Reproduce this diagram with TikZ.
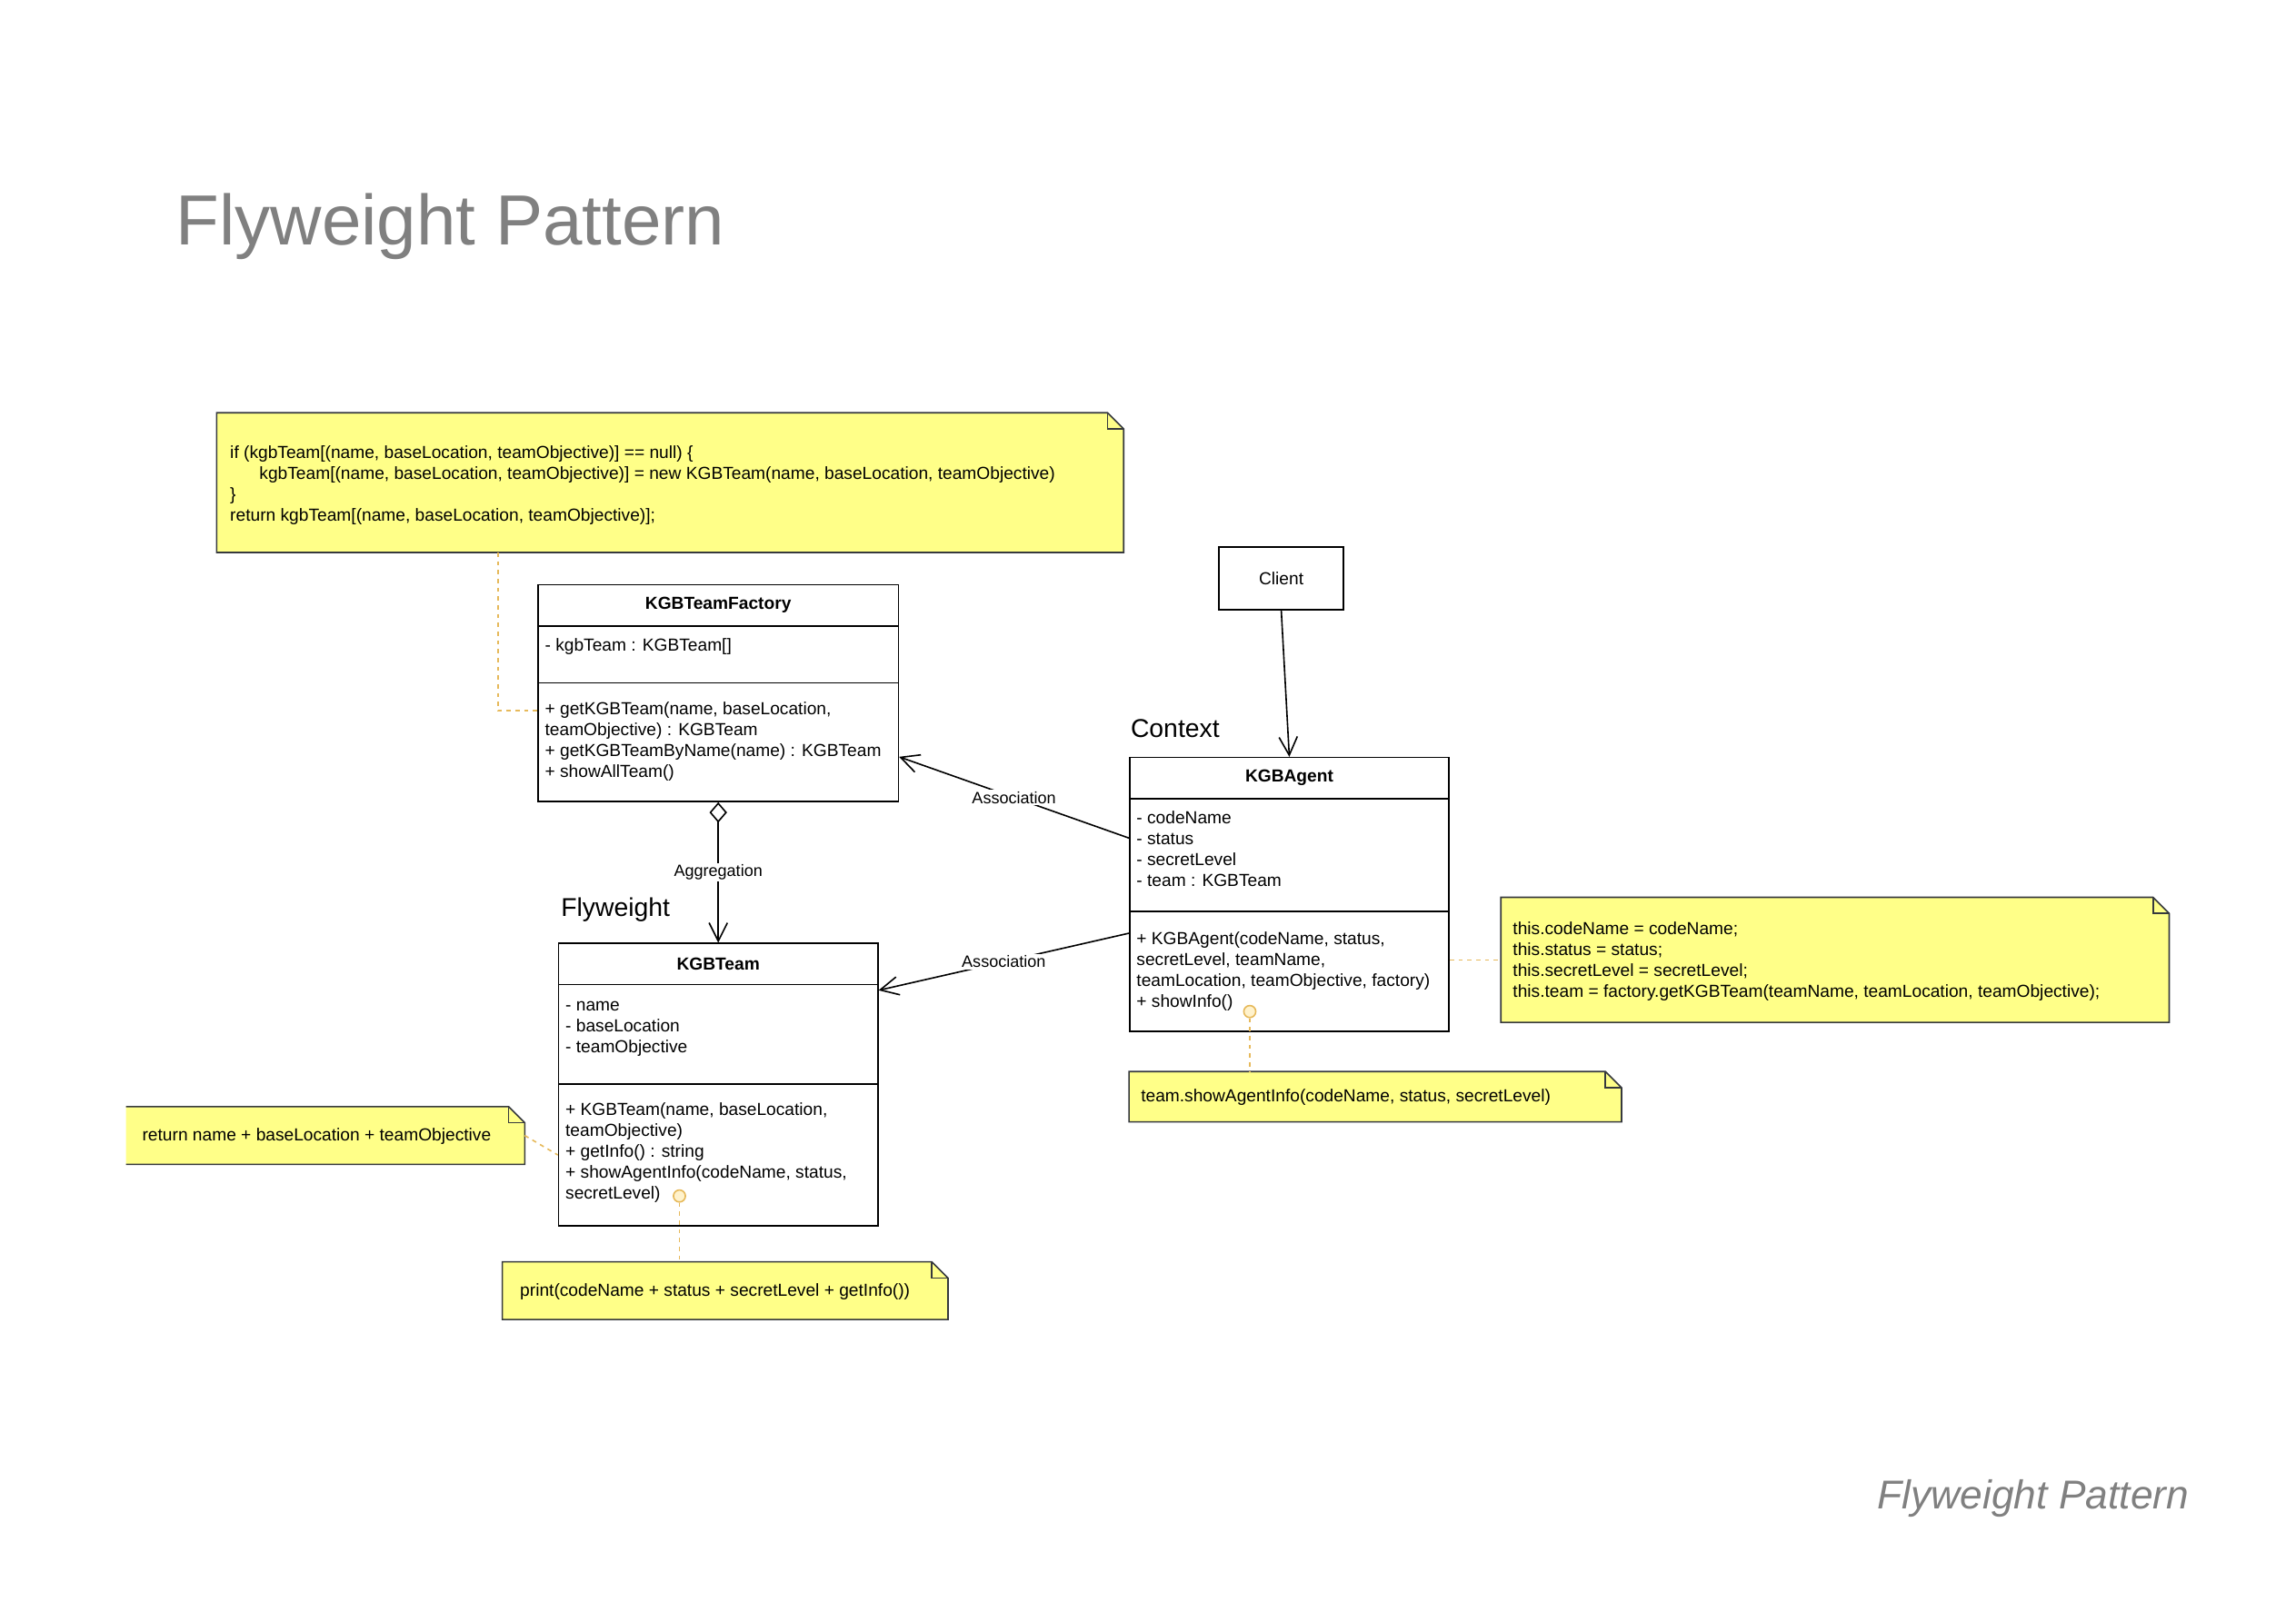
\documentclass[tikz,border=0pt]{standalone}
\usepackage{fontspec}
\setmainfont{Liberation Sans}
\usetikzlibrary{arrows.meta}

\definecolor{notefill}{HTML}{FFFF88}
\definecolor{noteline}{HTML}{36393D}
\definecolor{linkorange}{HTML}{E6B95A}
\definecolor{dotfill}{HTML}{FFF2CC}
\definecolor{titlegray}{HTML}{808080}

\tikzset{
  box/.style={draw, line width=1pt, anchor=north west, inner sep=0pt, font=\fontsize{11.9}{14.3}\selectfont},
  classname/.style={box, font=\fontsize{11.9}{14.3}\selectfont\bfseries},
  members/.style={anchor=base west, align=left, inner sep=0pt, font=\fontsize{11.9}{14.3}\selectfont},
  notebody/.style={anchor=north west, inner sep=0pt},
  notedash/.style={linkorange, dash pattern=on 3pt off 3pt, line width=1pt},
  linklabel/.style={fill=white, inner sep=1pt, font=\fontsize{11.2}{13}\selectfont},
  assoc/.style={-{Straight Barb[length=12.5pt,width=12.5pt]}, line width=1pt},
  dot/.style={circle, draw=linkorange, fill=dotfill, line width=1pt, minimum size=8.2pt, inner sep=0pt},
  rolelabel/.style={anchor=base west, inner sep=0pt, font=\fontsize{17.6}{21}\selectfont}
}

\newcommand{\notefold}[1]{%
  \filldraw[fill=notefill, draw=noteline, line width=1pt] (#1.north west) -- ([xshift=-11pt]#1.north east) -- ([yshift=-11pt]#1.north east) -- (#1.south east) -- (#1.south west) -- cycle;
  \draw[noteline, line width=1pt] ([xshift=-11pt]#1.north east) -- ([xshift=-11pt,yshift=-11pt]#1.north east) -- ([yshift=-11pt]#1.north east);
}

\begin{document}
\begin{tikzpicture}[x=1pt, y=-1pt]

        \useasboundingbox (0,0) rectangle (1568,1108);

        \node[anchor=base west, inner sep=0pt, text=titlegray, font=\fontsize{48.5}{58}\selectfont] (title) at (120,167) {Flyweight Pattern};
        \node[anchor=base east, inner sep=0pt, text=titlegray, font=\fontsize{27.5}{33}\selectfont\itshape] (caption) at (1495,1031) {Flyweight Pattern};

        % notes (multi-line texts sit on the baseline of their last line)
        \node[notebody, minimum width=619pt, minimum height=95pt] (ifnote) at (148,282) {};
        \notefold{ifnote}
        \node[members] (ifnotetext) at (157,356) {if (kgbTeam[(name, baseLocation, teamObjective)] == null) \{\\\hspace*{20pt}kgbTeam[(name, baseLocation, teamObjective)] = new KGBTeam(name, baseLocation, teamObjective)\\\}\\return kgbTeam[(name, baseLocation, teamObjective)];};

        \node[notebody, minimum width=456pt, minimum height=85pt] (thisnote) at (1025,613) {};
        \notefold{thisnote}
        \node[members] (thisnotetext) at (1033,681.5) {this.codeName = codeName;\\this.status = status;\\this.secretLevel = secretLevel;\\this.team = factory.getKGBTeam(teamName, teamLocation, teamObjective);};

        \node[notebody, minimum width=336pt, minimum height=34pt] (shownote) at (771,732) {};
        \notefold{shownote}
        \node[members] (shownotetext) at (779,752.5) {team.showAgentInfo(codeName, status, secretLevel)};

        \node[notebody, minimum width=304pt, minimum height=39pt] (printnote) at (343,862) {};
        \notefold{printnote}
        \node[members] (printnotetext) at (355,885.5) {print(codeName + status + secretLevel + getInfo())};

        \node[notebody, minimum width=272pt, minimum height=39pt] (leftnote) at (86,756) {};
        \fill[notefill] (leftnote.north west) -- ([xshift=-11pt]leftnote.north east) -- ([yshift=-11pt]leftnote.north east) -- (leftnote.south east) -- (leftnote.south west) -- cycle;
        \draw[noteline, line width=1pt] (leftnote.north west) -- ([xshift=-11pt]leftnote.north east) -- ([yshift=-11pt]leftnote.north east) -- (leftnote.south east) -- (leftnote.south west);
        \draw[noteline, line width=1pt] ([xshift=-11pt]leftnote.north east) -- ([xshift=-11pt,yshift=-11pt]leftnote.north east) -- ([yshift=-11pt]leftnote.north east);
        \node[members] (leftnotetext) at (97,779.5) {return name + baseLocation + teamObjective};

        % classes
        \node[classname, minimum width=246pt, minimum height=28pt] (factory) at (367,399) {KGBTeamFactory};
        \node[box, minimum width=246pt, minimum height=39pt] (factoryattr) at (367,427) {};
        \node[box, minimum width=246pt, minimum height=81pt] (factoryops) at (367,466) {};
        \node[members] (factoryattrtext) at (372,444.5) {- kgbTeam : KGBTeam[]};
        \node[members] (factoryopstext) at (372,531) {+ getKGBTeam(name, baseLocation,\\teamObjective) : KGBTeam\\+ getKGBTeamByName(name) : KGBTeam\\+ showAllTeam()};

        \node[classname, minimum width=218pt, minimum height=28pt] (agent) at (771,517) {KGBAgent};
        \node[box, minimum width=218pt, minimum height=77pt] (agentattr) at (771,545) {};
        \node[box, minimum width=218pt, minimum height=82pt] (agentops) at (771,622) {};
        \node[members] (agentattrtext) at (776,605.5) {- codeName\\- status\\- secretLevel\\- team : KGBTeam};
        \node[members] (agentopstext) at (776,688) {+ KGBAgent(codeName, status,\\secretLevel, teamName,\\teamLocation, teamObjective, factory)\\+ showInfo()};

        \node[classname, minimum width=218pt, minimum height=28pt] (team) at (381,644) {KGBTeam};
        \node[box, minimum width=218pt, minimum height=68pt] (teamattr) at (381,672) {};
        \node[box, minimum width=218pt, minimum height=97pt] (teamops) at (381,740) {};
        \node[members] (teamattrtext) at (386,719) {- name\\- baseLocation\\- teamObjective};
        \node[members] (teamopstext) at (386,819) {+ KGBTeam(name, baseLocation,\\teamObjective)\\+ getInfo() : string\\+ showAgentInfo(codeName, status,\\secretLevel)};

        \node[box, minimum width=85pt, minimum height=43pt] (client) at (832,373) {Client};

        \node[rolelabel] (contextlabel) at (772,503.5) {Context};
        \node[rolelabel] (flyweightlabel) at (383,626) {Flyweight};

        % relations
        \draw[assoc] (client.south) -- (agent.north);
        \draw[assoc] ([yshift=11.5pt]agentattr.west) -- node[linklabel] {Association} ([yshift=-10pt]factoryops.east);
        \draw[assoc] ([yshift=26pt]agentops.west) -- node[linklabel] {Association} ([yshift=30pt]teamattr.east);
        \draw[{Diamond[open,length=14pt,width=12pt]}-{Straight Barb[length=12.5pt,width=12.5pt]}, line width=1pt] (factoryops.south) -- node[linklabel] {Aggregation} (team.north);

        % note links
        \draw[notedash] ([xshift=192pt]ifnote.south west) |- ([yshift=21.5pt]factoryops.west);
        \draw[notedash] (agentops.east |- thisnote.west) -- (thisnote.west);
        \draw[notedash] (leftnote.east) -- (teamops.west);
        \node[dot] (agentdot) at (853.5,691) {};
        \draw[notedash] (agentdot.south) -- (agentdot.south |- shownote.north);
        \node[dot] (teamdot) at (464,817) {};
        \draw[notedash] (teamdot.south) -- (teamdot.south |- printnote.north);

\end{tikzpicture}
\end{document}
